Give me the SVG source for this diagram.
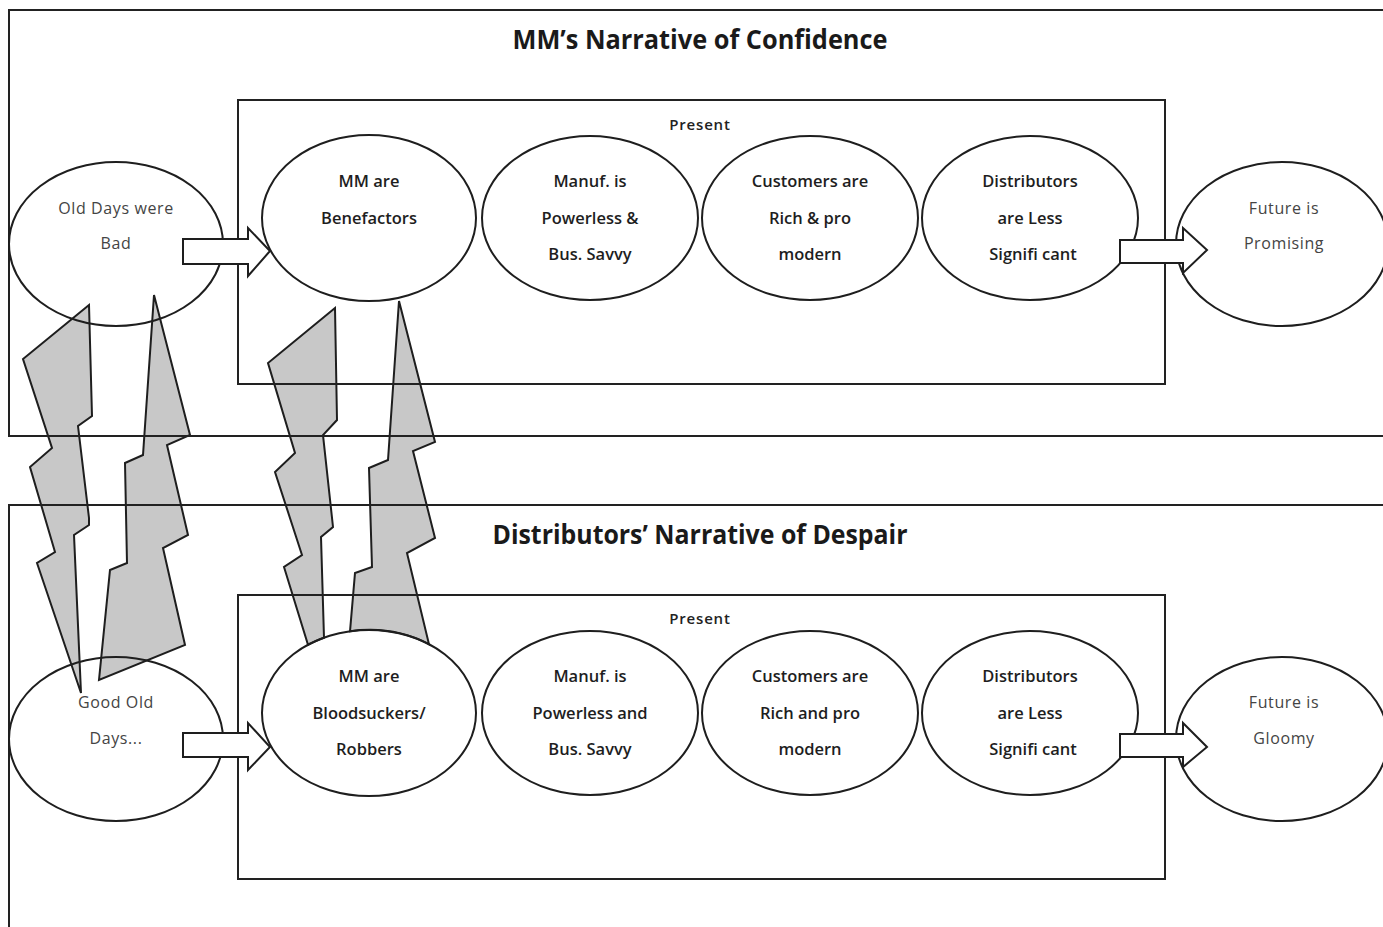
<svg xmlns="http://www.w3.org/2000/svg" width="1383" height="927" viewBox="0 0 1383 927">
<style>
.frame{fill:none;stroke:#222;stroke-width:2}
.node{fill:none;stroke:#1e1e1e;stroke-width:2}
.arrow{fill:#fff;stroke:#1e1e1e;stroke-width:2;stroke-linejoin:miter}
.bolt{fill:#c8c8c8;stroke:#1e1e1e;stroke-width:2;stroke-linejoin:miter}
.title{font-family:"Open Sans","Liberation Sans",sans-serif;font-weight:700;font-size:26px;fill:#1a1a1a;text-anchor:middle}
.present{font-family:"Open Sans","Liberation Sans",sans-serif;font-weight:600;font-size:15px;letter-spacing:0.8px;fill:#222;text-anchor:middle}
.mid{font-family:"Open Sans","Liberation Sans",sans-serif;font-weight:600;font-size:16.5px;fill:#1e1e1e;text-anchor:middle}
.outer{font-family:"Open Sans","Liberation Sans",sans-serif;font-weight:400;font-size:16px;letter-spacing:0.6px;fill:#444;text-anchor:middle}
</style>
<rect width="1383" height="927" fill="#fff"/>

<g id="bolts">
<polygon class="bolt" points="89,305 23,359 52,448 30,467 55,552 37,563 81,693 74,535 89,525 89,518 78,426 92,416"/>
<polygon class="bolt" points="154,295 190,435 167,445 188,535 163,548 185,645 99,680 110,570 127,563 125,463 143,455"/>
<path class="bolt" d="M335,308 L268,363 L295,453 L275,472 L302,555 L284,567 L308,644.8 A107 83 0 0 1 324,637.7 L321,537 L333,527 L323,435 L337,420 Z"/>
<path class="bolt" d="M399,301 L435,442 L413,451 L435,538 L407,553 L429,644.3 A107 83 0 0 0 350,631.3 L355,573 L372,567 L369,468 L388,460 Z"/>
</g>

<g id="narrative-confidence">
<rect class="frame" x="9" y="10" width="1400" height="426"/>
<text class="title" x="700" y="49" textLength="375" lengthAdjust="spacingAndGlyphs">MM’s Narrative of Confidence</text>
</g>
<g id="present-confidence">
<rect class="frame" x="238" y="100" width="927" height="284"/>
<text class="present" x="700" y="130">Present</text>
</g>

<g id="narrative-despair">
<rect class="frame" x="9" y="505" width="1400" height="500"/>
<text class="title" x="700" y="544" textLength="415" lengthAdjust="spacingAndGlyphs">Distributors’ Narrative of Despair</text>
</g>
<g id="present-despair">
<rect class="frame" x="238" y="595" width="927" height="284"/>
<text class="present" x="700" y="624">Present</text>
</g>

<g id="old-days-bad">
<ellipse class="node" cx="116" cy="244" rx="107" ry="82"/>
<text class="outer" x="116" y="214">Old Days were</text>
<text class="outer" x="116" y="249">Bad</text>
</g>
<g id="distributors-less-top">
<ellipse class="node" cx="1030" cy="218" rx="108" ry="82"/>
<text class="mid" x="1030" y="187">Distributors</text>
<text class="mid" x="1030" y="224">are Less</text>
<text class="mid" x="1033" y="260">Signifi  cant</text>
</g>
<g id="future-promising">
<ellipse class="node" cx="1282" cy="244" rx="106" ry="82"/>
<text class="outer" x="1284" y="214">Future is</text>
<text class="outer" x="1284" y="249">Promising</text>
</g>

<g id="good-old-days">
<ellipse class="node" cx="116" cy="739" rx="107" ry="82"/>
<text class="outer" x="116" y="708">Good Old</text>
<text class="outer" x="116" y="744">Days...</text>
</g>
<g id="distributors-less-bottom">
<ellipse class="node" cx="1030" cy="713" rx="108" ry="82"/>
<text class="mid" x="1030" y="682">Distributors</text>
<text class="mid" x="1030" y="719">are Less</text>
<text class="mid" x="1033" y="755">Signifi  cant</text>
</g>
<g id="future-gloomy">
<ellipse class="node" cx="1282" cy="739" rx="106" ry="82"/>
<text class="outer" x="1284" y="708">Future is</text>
<text class="outer" x="1284" y="744">Gloomy</text>
</g>

<g id="connectors">
<path class="arrow" d="M183,239 H248 V228 L270,251 L248,276 V264 H183 Z"/>
<path class="arrow" d="M1120,240 H1183 V228 L1207,250 L1183,273 V263 H1120 Z"/>
<path class="arrow" d="M183,733 H248 V723 L270,747 L248,770 V757 H183 Z"/>
<path class="arrow" d="M1120,734 H1183 V723 L1207,747 L1183,767 V757 H1120 Z"/>
</g>

<g id="mm-benefactors">
<ellipse class="node" cx="369" cy="218" rx="107" ry="83"/>
<text class="mid" x="369" y="187">MM are</text>
<text class="mid" x="369" y="224">Benefactors</text>
</g>
<g id="manuf-powerless-top">
<ellipse class="node" cx="590" cy="218" rx="108" ry="82"/>
<text class="mid" x="590" y="187">Manuf. is</text>
<text class="mid" x="590" y="224">Powerless &amp;</text>
<text class="mid" x="590" y="260">Bus. Savvy</text>
</g>
<g id="customers-rich-top">
<ellipse class="node" cx="810" cy="218" rx="108" ry="82"/>
<text class="mid" x="810" y="187">Customers are</text>
<text class="mid" x="810" y="224">Rich &amp; pro</text>
<text class="mid" x="810" y="260">modern</text>
</g>

<g id="mm-bloodsuckers">
<ellipse class="node" cx="369" cy="713" rx="107" ry="83"/>
<text class="mid" x="369" y="682">MM are</text>
<text class="mid" x="369" y="719">Bloodsuckers/</text>
<text class="mid" x="369" y="755">Robbers</text>
</g>
<g id="manuf-powerless-bottom">
<ellipse class="node" cx="590" cy="713" rx="108" ry="82"/>
<text class="mid" x="590" y="682">Manuf. is</text>
<text class="mid" x="590" y="719">Powerless and</text>
<text class="mid" x="590" y="755">Bus. Savvy</text>
</g>
<g id="customers-rich-bottom">
<ellipse class="node" cx="810" cy="713" rx="108" ry="82"/>
<text class="mid" x="810" y="682">Customers are</text>
<text class="mid" x="810" y="719">Rich and pro</text>
<text class="mid" x="810" y="755">modern</text>
</g>
</svg>
